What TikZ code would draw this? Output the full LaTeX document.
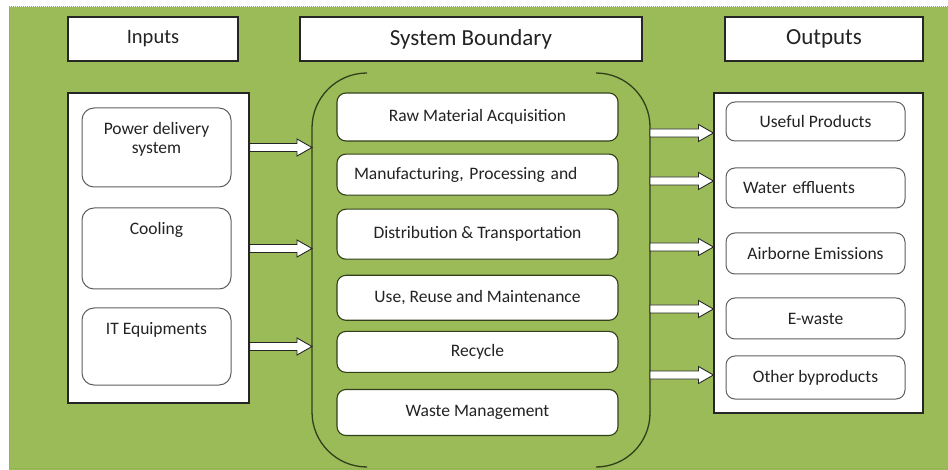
\documentclass[tikz,border=0pt]{standalone}
\usepackage{fontspec}
\setmainfont{Carlito}
\usepackage{xcolor}
\usetikzlibrary{positioning,calc}
\definecolor{lcagreen}{RGB}{155,187,89}
\definecolor{lcaolive}{RGB}{50,64,26}
\definecolor{lcagrey}{RGB}{95,95,95}
\definecolor{lcatext}{RGB}{35,35,35}
\newcommand{\lcabody}{\fontsize{17.5}{18.5}\selectfont}
\newcommand{\lcahead}{\fontsize{23}{26}\selectfont}
% white block arrow from #1 to #2 (horizontal)
\newcommand{\fatarrow}[2]{%
  \path (#1) coordinate (fatS) (#2) coordinate (fatE);
  \draw[fatarrow] ($(fatS)+(0,-4)$) -- ($(fatE)+(-15,-4)$) -- ($(fatE)+(-15,-8.5)$)
    -- (fatE) -- ($(fatE)+(-15,8.5)$) -- ($(fatE)+(-15,4)$) -- ($(fatS)+(0,4)$) -- cycle;}
\tikzset{
  headbox/.style={
    rectangle,
    draw=black!85,
    line width=1.3pt,
    fill=white,
    minimum height=44pt,
    inner sep=2pt,
    text=lcatext,
    font=\lcahead
  },
  panel/.style={
    rectangle,
    draw=black!85,
    line width=1.1pt,
    fill=white
  },
  inbox/.style={
    rectangle,
    rounded corners=12pt,
    draw=lcagrey,
    line width=1pt,
    fill=white,
    minimum width=149pt
  },
  stagebox/.style={
    rectangle,
    rounded corners=9pt,
    draw=lcaolive,
    line width=1.1pt,
    fill=white,
    minimum width=281pt,
    inner sep=2pt,
    text=lcatext,
    font=\lcabody
  },
  outbox/.style={
    rectangle,
    rounded corners=9pt,
    draw=lcagrey,
    line width=1pt,
    fill=white,
    minimum width=179pt,
    inner sep=2pt,
    text=lcatext,
    font=\lcabody
  },
  leftset/.style={
    inner xsep=17pt,
    text width=#1,
    align=left
  },
  intext/.style={
    anchor=north,
    yshift=-15pt,
    inner sep=0pt,
    align=center,
    text=lcatext,
    font=\lcabody
  },
  boundary/.style={
    draw=lcaolive,
    line width=1.3pt
  },
  fatarrow/.style={
    draw=black!85,
    line width=0.9pt,
    fill=white,
    line join=miter
  }
}

\begin{document}
\begin{tikzpicture}[x=1pt, y=-1pt]
\useasboundingbox (0,0) rectangle (948,470);
% backdrop
\fill[white] (0,0) rectangle (948,470);
\fill[lcagreen] (9,7) rectangle (948,470);
\draw[densely dotted, black!40, line width=1pt] (948,7) -- (9,7) -- (9,468) -- (948,468);

% column headings
\node[headbox, minimum width=170pt, font=\fontsize{20.5}{23}\selectfont] (hdrIn) at (153,39) {Inputs};
\node[headbox, minimum width=342pt] (hdrSys) at (471,39) {System Boundary};
\node[headbox, minimum width=198pt] (hdrOut) at (824,39) {Outputs};

% system boundary brackets
\draw[boundary, rounded corners=55pt] (367,73) -- (312,73) -- (312,467) -- (367,467);
\draw[boundary, rounded corners=54pt] (596,73) -- (650,73) -- (650,467) -- (596,467);
\coordinate (bndL) at (312,270);
\coordinate (bndR) at (650,270);

% inputs
\node[panel, minimum width=181pt, minimum height=310pt] (inPanel) at (158.5,248) {};
\node[inbox, minimum height=79pt, label={[intext]north:{Power delivery\\system}}] (pwr) at (156.5,147.5) {};
\node[inbox, minimum height=81pt, below=20pt of pwr, label={[intext]north:Cooling}] (cool) {};
\node[inbox, minimum height=77pt, below=18pt of cool, label={[intext]north:IT Equipments}] (itEq) {};

% life cycle stages
\node[stagebox, minimum height=48pt] (raw) at (477.5,117) {Raw Material Acquisition};
\node[stagebox, minimum height=41pt, leftset=247pt, below=12pt of raw] (mfg) {Manufacturing, Processing and};
\node[stagebox, minimum height=50pt, below=13pt of mfg] (dist) {Distribution \& Transportation};
\node[stagebox, minimum height=45pt, below=15pt of dist] (use) {Use, Reuse and Maintenance};
\node[stagebox, minimum height=41pt, below=10pt of use] (recycle) {Recycle};
\node[stagebox, minimum height=46pt, below=16pt of recycle] (waste) {Waste Management};

% outputs
\node[panel, minimum width=209pt, minimum height=320pt] (outPanel) at (818.5,253) {};
\node[outbox, minimum height=39pt] (useful) at (815.5,121.5) {Useful Products};
\node[outbox, minimum height=40pt, leftset=145pt, below=26pt of useful] (water) {Water effluents};
\node[outbox, minimum height=41pt, below=24pt of water] (airborne) {Airborne Emissions};
\node[outbox, minimum height=41pt, below=23pt of airborne] (ewaste) {E-waste};
\node[outbox, minimum height=43pt, below=16pt of ewaste] (other) {Other byproducts};

% flows in and out
\fatarrow{inPanel.east |- pwr}{bndL |- pwr}
\fatarrow{inPanel.east |- cool}{bndL |- cool}
\fatarrow{inPanel.east |- itEq}{bndL |- itEq}
\foreach \ay in {133,181,247,309,375} {
  \fatarrow{bndR |- 0,\ay}{outPanel.west |- 0,\ay}
}
\end{tikzpicture}
\end{document}
